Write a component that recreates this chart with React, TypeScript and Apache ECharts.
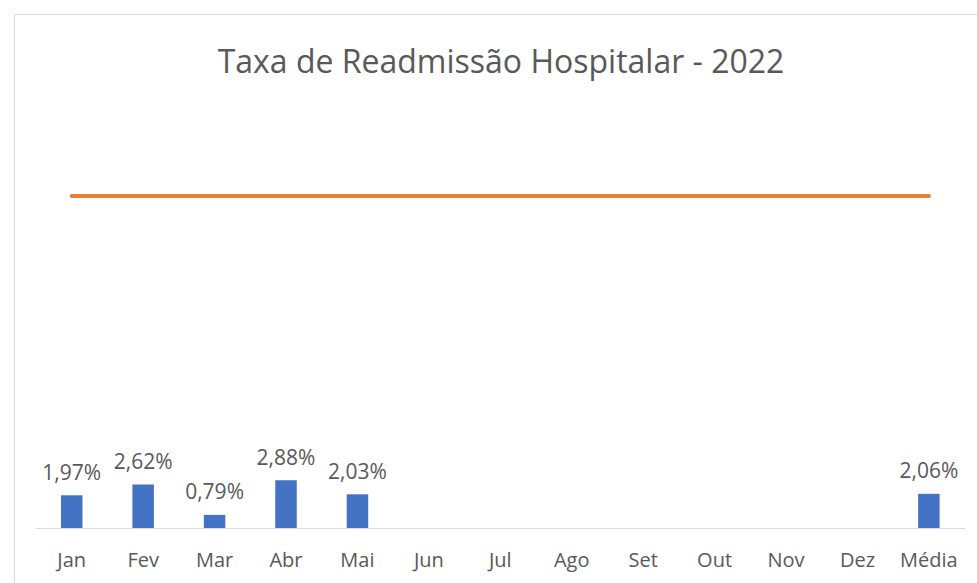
import React, { useEffect, useRef } from "react";
import * as echarts from "echarts";

const categories = ["Jan", "Fev", "Mar", "Abr", "Mai", "Jun", "Jul", "Ago", "Set", "Out", "Nov", "Dez", "Média"];
const taxa: (number | null)[] = [1.97, 2.62, 0.79, 2.88, 2.03, null, null, null, null, null, null, null, 2.06];
const meta: number[] = [20, 20, 20, 20, 20, 20, 20, 20, 20, 20, 20, 20, 20];
const titleText = "Taxa de Readmissão Hospitalar - 2022";

export default function App() {
  const ref = useRef<HTMLDivElement>(null);
  useEffect(() => {
    if (!ref.current) return;
    const chart = echarts.init(ref.current, null, { renderer: "svg" });
    const font = "'Open Sans', sans-serif";
    chart.setOption({
      animation: false,
      backgroundColor: "#ffffff",
      textStyle: { fontFamily: font },
      graphic: [
        {
          type: "rect",
          shape: { x: 14.5, y: 14.5, width: 980, height: 600 },
          style: { fill: "none", stroke: "#D9D9D9", lineWidth: 1 },
          silent: true,
        },
        {
          type: "text",
          x: 501,
          y: 60,
          style: {
            text: titleText,
            fill: "#595959",
            font: `32px ${font}`,
            textAlign: "center",
            textVerticalAlign: "middle",
          },
        },
      ],
      grid: { left: 36, right: 12.4, top: 129.6, bottom: 55 },
      xAxis: {
        type: "category",
        data: categories,
        axisLine: { lineStyle: { color: "#D9D9D9", width: 1 } },
        axisTick: { show: false },
        axisLabel: { color: "#595959", fontSize: 20, margin: 21, fontFamily: font, interval: 0 },
      },
      yAxis: {
        type: "value",
        min: 0,
        max: 24,
        show: false,
        splitLine: { show: false },
      },
      series: [
        {
          type: "bar",
          data: taxa,
          barWidth: 21.5,
          itemStyle: { color: "#4472C4" },
          label: {
            show: true,
            position: "top",
            distance: 13,
            color: "#595959",
            fontSize: 21,
            fontFamily: font,
            formatter: (p: any) => (p.value == null ? "" : p.value.toFixed(2).replace(".", ",") + "%"),
          },
        },
        {
          type: "line",
          data: meta,
          symbol: "none",
          clip: false,
          lineStyle: { color: "#ED7D31", width: 4, cap: "round" },
        },
      ],
    });
    return () => chart.dispose();
  }, []);
  return <div ref={ref} style={{ position: "fixed", left: 0, top: 0, width: 977, height: 583 }} />;
}
